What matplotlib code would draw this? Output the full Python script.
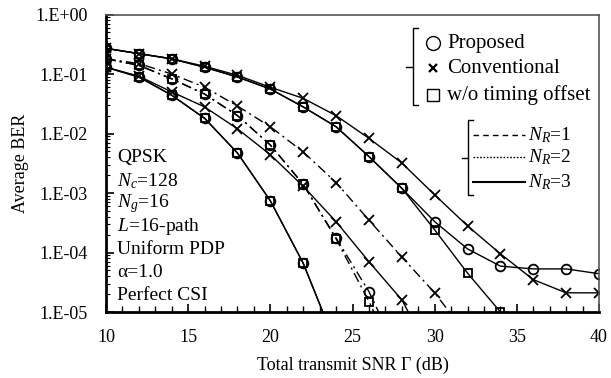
import numpy as np
import matplotlib.pyplot as plt
from matplotlib.ticker import FuncFormatter, LogLocator, MultipleLocator

plt.rcParams['font.family'] = ['Liberation Serif', 'DejaVu Serif']
plt.rcParams['mathtext.fontset'] = 'custom'
plt.rcParams['mathtext.rm'] = 'Liberation Serif'
plt.rcParams['mathtext.it'] = 'Liberation Serif:italic'

snr = np.arange(10, 42, 2)

# N_R = 1
prop1 = [0.27, 0.22, 0.18, 0.13, 0.089, 0.056, 0.028, 0.013, 0.0041, 0.0012,
         3.3e-4, 1.15e-4, 5.9e-5, 5.3e-5, 5.3e-5, 4.4e-5]
conv1 = [0.27, 0.22, 0.18, 0.135, 0.095, 0.06, 0.039, 0.020, 0.0083, 0.0032,
         9.3e-4, 2.8e-4, 9.5e-5, 3.5e-5, 2.1e-5, 2.1e-5]
wo1 = [0.27, 0.22, 0.18, 0.13, 0.089, 0.056, 0.028, 0.013, 0.0041, 0.0012,
       2.4e-4, 4.5e-5, 1.0e-5]

# N_R = 2
prop2 = [0.18, 0.14, 0.083, 0.046, 0.02, 0.0064, 0.0014, 1.75e-4, 2.2e-5, 1.5e-6]
wo2 = [0.18, 0.14, 0.083, 0.046, 0.02, 0.0064, 0.0014, 1.7e-4, 1.5e-5, 1.0e-6]
conv2 = [0.18, 0.15, 0.10, 0.06, 0.029, 0.013, 0.0049, 0.0015, 3.5e-4, 8.4e-5,
         2.1e-5, 4e-6]

# N_R = 3
prop3 = [0.13, 0.089, 0.044, 0.018, 0.0047, 7.4e-4, 6.6e-5, 2.8e-6]
wo3 = [0.13, 0.089, 0.044, 0.018, 0.0047, 7.4e-4, 6.6e-5, 2.8e-6]
conv3 = [0.13, 0.092, 0.05, 0.028, 0.012, 0.0044, 0.0013, 3.3e-4, 7e-5, 1.6e-5,
         1.5e-6]

info = ['QPSK', r'$N_c$=128', r'$N_g$=16', r'$L$=16-path', 'Uniform PDP',
        'α=1.0', 'Perfect CSI']

fig = plt.figure(figsize=(6.11, 3.78), dpi=100)
ax = fig.add_axes([0.1735, 0.1746, 0.8069, 0.787])

dashdot = (0, (7, 3, 1.5, 3))
mk = dict(mfc='none', mec='k', mew=1.3, color='k', lw=1.0)
ms = {'x': 7, 'o': 7, 's': 6}

# N_R=1 group (solid thin)
ax.plot(snr[:len(conv1)], conv1, marker='x', ms=ms['x'], ls='-', **mk)
ax.plot(snr[:len(prop1)], prop1, marker='o', ms=ms['o'], ls='-', **mk)
ax.plot(snr[:len(wo1)], wo1, marker='s', ms=ms['s'], ls='-', **mk)

# N_R=2 group (dash-dot)
ax.plot(snr[:len(conv2)], conv2, marker='x', ms=ms['x'], ls=dashdot, **mk)
ax.plot(snr[:len(prop2)], prop2, marker='o', ms=ms['o'], ls=dashdot, **mk)
ax.plot(snr[:len(wo2)], wo2, marker='s', ms=ms['s'], ls=dashdot, **mk)

# N_R=3 group (solid)
ax.plot(snr[:len(conv3)], conv3, marker='x', ms=ms['x'], ls='-', **mk)
ax.plot(snr[:len(prop3)], prop3, marker='o', ms=ms['o'], ls='-', **mk)
ax.plot(snr[:len(wo3)], wo3, marker='s', ms=ms['s'], ls='-', **mk)

ax.set_yscale('log')
ax.set_xlim(10, 40)
ax.set_ylim(1e-5, 1)
ax.xaxis.set_major_locator(MultipleLocator(5))
ax.xaxis.set_minor_locator(MultipleLocator(1))
ax.yaxis.set_major_locator(LogLocator(base=10, numticks=10))
ax.yaxis.set_minor_locator(LogLocator(base=10, subs=np.arange(2, 10), numticks=10))
ax.yaxis.set_major_formatter(FuncFormatter(lambda v, p: f"1.E{int(round(np.log10(v))):+03d}"))
ax.yaxis.set_minor_formatter(FuncFormatter(lambda v, p: ''))
ax.tick_params(axis='both', which='both', direction='in', labelsize=13)
ax.tick_params(axis='x', which='major', length=6, width=1.2, pad=12)
ax.tick_params(axis='x', which='minor', length=4, width=1.0)
ax.tick_params(axis='y', which='major', length=6, width=1.2, pad=13)
ax.tick_params(axis='y', which='minor', length=3, width=0.8)
ax.tick_params(top=False, right=False, which='both')

ax.spines['left'].set_linewidth(2.0)
ax.spines['bottom'].set_linewidth(2.0)
ax.spines['top'].set_linewidth(1.2)
ax.spines['top'].set_color('#555555')
ax.spines['right'].set_linewidth(1.2)
ax.spines['right'].set_color('#555555')

ax.set_xlabel('Total transmit SNR Γ (dB)', fontsize=13, labelpad=8)
ax.set_ylabel('Average BER', fontsize=13, labelpad=5)

# condition text
for i, s in enumerate(info):
    ax.text(0.022, 0.519 - i * 0.0775, s, transform=ax.transAxes, fontsize=14,
            va='center', ha='left')


def px(x, y):
    return ((x - 106) / 493, (312 - y) / 297.5)


def bracket(xv, y0, y1, xl):
    tr = ax.transAxes
    pts = [px(xv + 5, y0), px(xv, y0), px(xv, y1), px(xv + 5, y1)]
    ax.plot([p[0] for p in pts], [p[1] for p in pts], color='k', lw=1.0,
            transform=tr, clip_on=False)
    ym = (y0 + y1) / 2
    a, b = px(xl, ym), px(xv, ym)
    ax.plot([a[0], b[0]], [a[1], b[1]], color='k', lw=1.0, transform=tr,
            clip_on=False)


# marker legend
bracket(413, 28, 105, 406)
for y, m, lab in [(43, 'o', 'Proposed'), (68, 'x', 'Conventional'),
                  (95, 's', 'w/o timing offset')]:
    p = px(433, y)
    ax.plot([p[0]], [p[1]], marker=m, ms=10 if m == 'o' else 6 if m == 'x' else 8,
            mfc='none', mec='k', mew=1.0 if m != 'x' else 1.6, ls='none',
            transform=ax.transAxes, clip_on=False)
    t = px(447, y)
    ax.text(t[0], t[1], lab, transform=ax.transAxes, fontsize=15,
            va='center', ha='left')

# line legend
bracket(468, 120, 195, 462)
for y, ls, lw, lab in [(135, (0, (4, 3)), 1.0, r'$N_R$=1'),
                       (157, (0, (1.2, 1.2)), 1.0, r'$N_R$=2'),
                       (182, '-', 1.5, r'$N_R$=3')]:
    a, b = px(473, y), px(525, y)
    ax.plot([a[0], b[0]], [a[1], b[1]], color='k', ls=ls, lw=lw,
            transform=ax.transAxes, clip_on=False)
    t = px(528, y)
    ax.text(t[0], t[1], lab, transform=ax.transAxes, fontsize=14,
            va='center', ha='left')

fig.savefig('out.png', dpi=100)
